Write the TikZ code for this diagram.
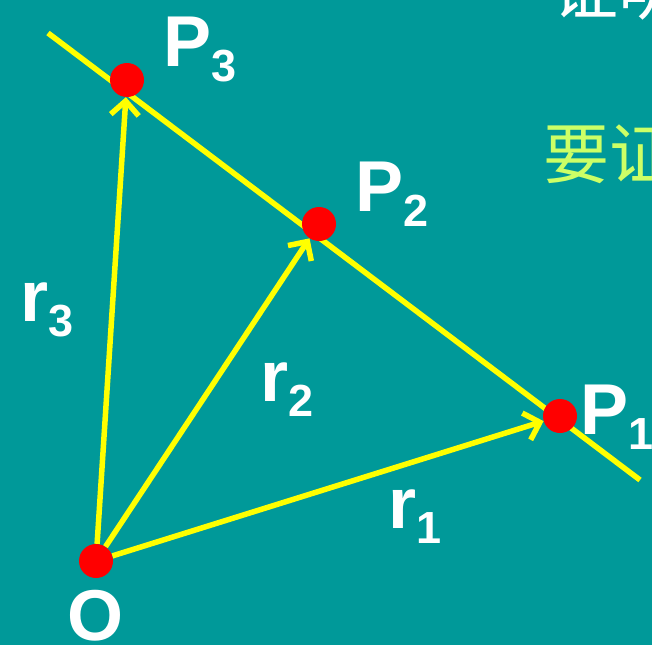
\documentclass[tikz,border=0pt]{standalone}
\usepackage{fontspec}
\setmainfont{Liberation Sans}
\newfontfamily\cjk{Noto Sans CJK SC}
\usetikzlibrary{arrows.meta,positioning}
\definecolor{bgteal}{RGB}{0,153,153}
\definecolor{vecyellow}{RGB}{255,255,0}
\definecolor{ptred}{RGB}{255,0,0}
\definecolor{hintgreen}{RGB}{204,255,102}
\newcommand{\lowidx}[1]{\raisebox{-15pt}{\fontsize{45}{45}\selectfont #1}}

\begin{document}
\begin{tikzpicture}[x=1pt, y=-1pt]
  \tikzset{
    dot/.style={circle, fill=ptred, inner sep=0pt, minimum size=34pt},
    vec/.style={-{Straight Barb[length=14pt, width=28pt]}, line width=5.5pt, vecyellow},
    lbl/.style={text=white, font=\fontsize{72}{72}\selectfont\bfseries, inner sep=0pt, anchor=base west}
  }
  \fill[bgteal] (0,0) rectangle (652,645);
  \useasboundingbox (0,0) rectangle (652,645);

  % straight line through the three points
  \coordinate (lstart) at (48,33);
  \coordinate (lend) at (640,480);
  \draw[line width=5.5pt, vecyellow] (lstart) -- (lend);

  \node[dot] (O) at (96,561) {};
  \node[dot] (P1) at (560,416) {};
  \node[dot] (P2) at (319,224) {};
  \node[dot] (P3) at (127,80) {};

  \draw[vec] (O) -- (P1);
  \draw[vec] (O) -- (P2);
  \draw[vec] (O) -- (P3);

  \node[lbl] (lP3) at (163,66) {P\lowidx{3}};
  \node[lbl] (lP2) at (355,211) {P\lowidx{2}};
  \node[lbl] (lP1) at (580,434) {P\lowidx{1}};
  \node[lbl] (lr3) at (20,321) {r\lowidx{3}};
  \node[lbl] (lr2) at (260,401) {r\lowidx{2}};
  \node[lbl] (lr1) at (388,528) {r\lowidx{1}};
  \node[lbl] (lO) at (67,640) {O};

  % text cut off at the right edge
  \begin{scope}
    \clip (0,0) rectangle (652,645);
    \node[anchor=base west, inner sep=0pt, text=white, font=\cjk\fontsize{66}{66}\selectfont] (proof) at (552,14) {证明};
    \node[anchor=base west, inner sep=0pt, text=hintgreen, font=\cjk\fontsize{66}{66}\selectfont] (goal) at (543,178) {要证};
  \end{scope}
\end{tikzpicture}
\end{document}
